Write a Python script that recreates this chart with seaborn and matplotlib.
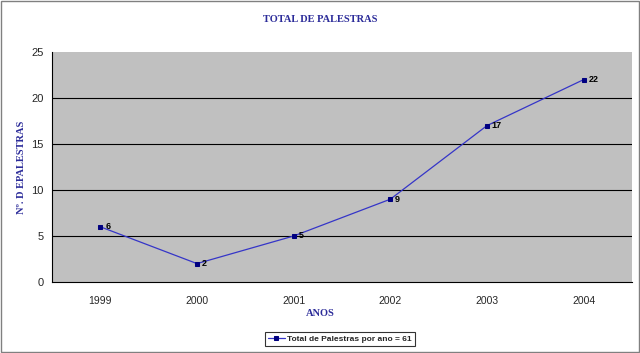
import matplotlib
matplotlib.use("Agg")
import matplotlib.pyplot as plt
import seaborn as sns
import pandas as pd
import numpy as np

years = ["1999", "2000", "2001", "2002", "2003", "2004"]
values = [6, 2, 5, 9, 17, 22]
series_label = "Total de Palestras por ano = 61"
title = "TOTAL DE PALESTRAS"
xlabel = "ANOS"
ylabel = "Nº. D EPALESTRAS"

sns.set_style("white")
plt.rcParams['font.family'] = ['Liberation Sans', 'DejaVu Sans']

df = pd.DataFrame({"idx": np.arange(len(years)), "val": values})

fig = plt.figure(figsize=(6.4, 3.53), dpi=100)
fig.patch.set_facecolor("white")
ax = fig.add_axes([52/640, 1-282/353, 580/640, 230/353])
ax.set_facecolor("#C0C0C0")

navy = "#000080"
textblue = "#2B2B99"
sns.lineplot(data=df, x="idx", y="val", ax=ax, color="#3535C8", linewidth=0.9,
             marker="s", markersize=3, markerfacecolor=navy, markeredgecolor=navy,
             label=series_label)

for i, v in enumerate(values):
    ax.annotate(str(v), (i, v), xytext=(3.5, 0), textcoords="offset points",
                fontsize=6.5, fontweight="bold", va="center", ha="left", color="black")

ax.set_xlim(-0.5, len(years) - 0.5)
ax.set_ylim(0, 25)
ax.set_yticks([0, 5, 10, 15, 20, 25])
ax.set_yticklabels(["0", "5", "10", "15", "20", "25"], fontsize=8)
ax.set_xticks(np.arange(len(years)))
ax.set_xticklabels(years, fontsize=7.5)
ax.set_xticks(np.arange(-0.5, len(years)), minor=True)
ax.tick_params(axis="x", which="major", length=0, pad=10)
ax.tick_params(axis="x", which="minor", length=4, color="black", width=0.8, direction="out")
ax.tick_params(axis="y", length=4, color="black", width=0.8, direction="out", pad=2)
for gy in [5, 10, 15, 20]:
    ax.axhline(gy, color="black", linewidth=0.8, zorder=0.5)
for side in ["top", "right"]:
    ax.spines[side].set_visible(False)
ax.spines["left"].set_color("black")
ax.spines["bottom"].set_color("black")
ax.spines["left"].set_linewidth(0.8)
ax.spines["bottom"].set_linewidth(0.8)

serif = ['Liberation Serif', 'DejaVu Serif']
ax.set_xlabel("")
ax.set_ylabel("")
fig.text(0.5, 1 - 19/353, title, ha="center", va="center", family=serif,
         fontsize=7.5, fontweight="bold", color=textblue)
fig.text(0.5, 1 - 313/353, xlabel, ha="center", va="center", family=serif,
         fontsize=7.5, fontweight="bold", color=textblue)
fig.text(22/640, 1 - 167/353, ylabel, ha="center", va="center", family=serif,
         fontsize=7.5, fontweight="bold", color=textblue, rotation=90)

leg = ax.legend(loc="center", bbox_to_anchor=(340/640, 1 - 339/353),
                bbox_transform=fig.transFigure, fontsize=6, frameon=True,
                fancybox=False, edgecolor="black", handlelength=2.0,
                borderpad=0.4, handletextpad=0.3)
leg.get_frame().set_linewidth(0.8)
for t in leg.get_texts():
    t.set_fontweight("bold")

border = plt.Rectangle((0.002, 0.003), 0.996, 0.994, transform=fig.transFigure,
                       fill=False, edgecolor="#808080", linewidth=1)
fig.patches.append(border)

fig.savefig("out.png", dpi=100)
